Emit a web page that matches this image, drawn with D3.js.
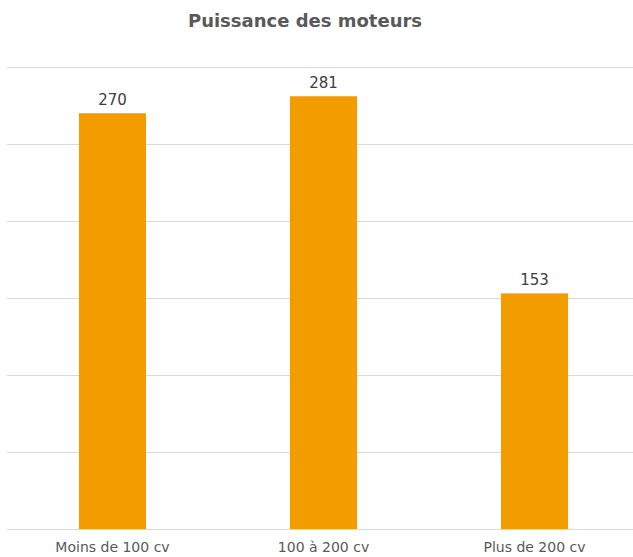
<!DOCTYPE html>
<html><head><meta charset="utf-8">
<script src="https://cdn.jsdelivr.net/npm/d3@7"></script>
<style>body{margin:0;background:#fff}svg{display:block}</style>
</head><body>
<script>
const title = "Puissance des moteurs";
const categories = ["Moins de 100 cv", "100 à 200 cv", "Plus de 200 cv"];
const values = [270, 281, 153];
const yTicks = [0, 50, 100, 150, 200, 250, 300];

const W = 633, H = 557;
const svg = d3.select("body").append("svg").attr("width", W).attr("height", H);
const font = "DejaVu Sans, sans-serif";

const x = d3.scaleBand().domain(categories).range([7, 640]).padding(0);
const y = d3.scaleLinear().domain([0, 300]).range([529, 67]);

svg.append("g").selectAll("line").data(yTicks).join("line")
  .attr("x1", 7).attr("x2", W)
  .attr("y1", d => Math.round(y(d)) + 0.5).attr("y2", d => Math.round(y(d)) + 0.5)
  .attr("stroke", "#d9d9d9").attr("stroke-width", 1);

const bw = x.bandwidth() * 0.318;
svg.append("g").selectAll("rect").data(values).join("rect")
  .attr("x", (d, i) => x(categories[i]) + x.bandwidth() / 2 - bw / 2)
  .attr("width", bw)
  .attr("y", d => y(d))
  .attr("height", d => y(0) - y(d))
  .attr("fill", "#F39C00");

svg.append("g").selectAll("text").data(values).join("text")
  .attr("x", (d, i) => x(categories[i]) + x.bandwidth() / 2)
  .attr("y", d => y(d) - 8)
  .attr("text-anchor", "middle")
  .attr("font-family", font).attr("font-size", 15).attr("fill", "#404040")
  .text(d => d);

svg.append("g").selectAll("text").data(categories).join("text")
  .attr("x", d => x(d) + x.bandwidth() / 2)
  .attr("y", 552)
  .attr("text-anchor", "middle")
  .attr("font-family", font).attr("font-size", 14).attr("fill", "#595959")
  .text(d => d);

svg.append("text")
  .attr("x", 305).attr("y", 27)
  .attr("text-anchor", "middle")
  .attr("font-family", font).attr("font-size", 18).attr("font-weight", "bold").attr("fill", "#595959")
  .text(title);
</script>
</body></html>
